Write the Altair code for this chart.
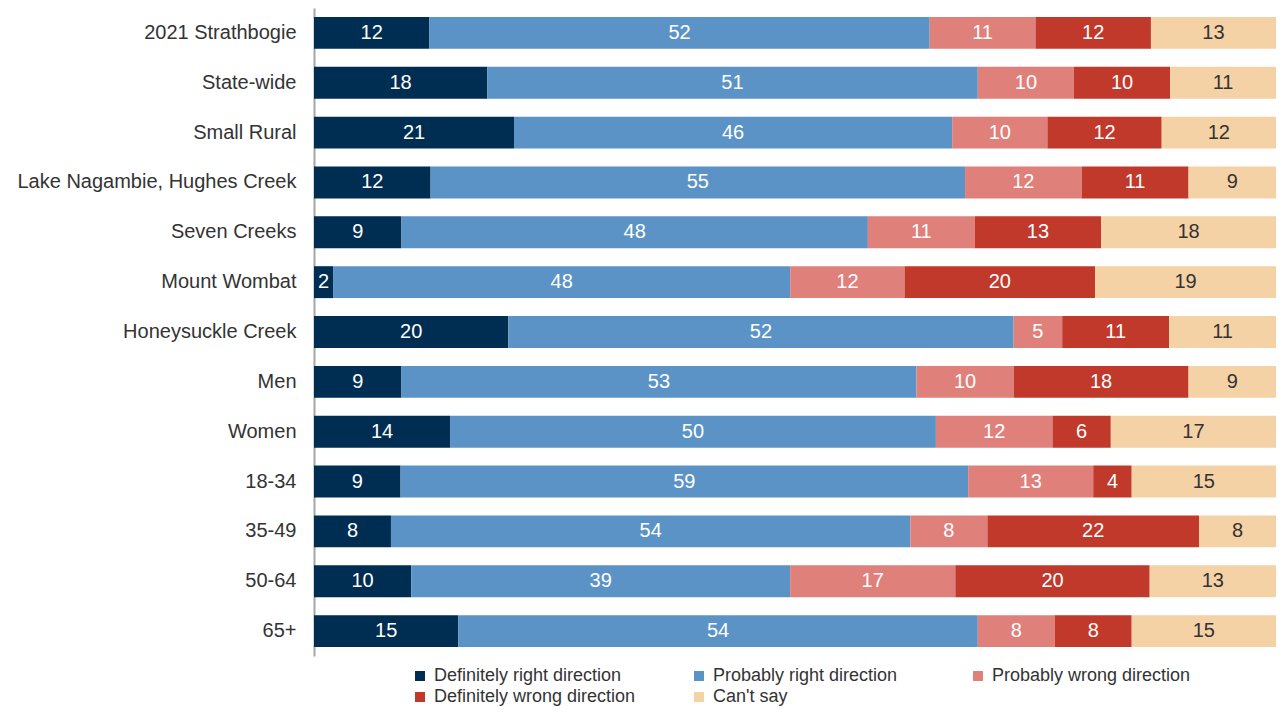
import altair as alt
import pandas as pd

groups = ["2021 Strathbogie", "State-wide", "Small Rural", "Lake Nagambie, Hughes Creek",
          "Seven Creeks", "Mount Wombat", "Honeysuckle Creek", "Men", "Women",
          "18-34", "35-49", "50-64", "65+"]
series = ["Definitely right direction", "Probably right direction",
          "Probably wrong direction", "Definitely wrong direction", "Can't say"]
definitely_right = [12, 18, 21, 12, 9, 2, 20, 9, 14, 9, 8, 10, 15]
probably_right = [52, 51, 46, 55, 48, 48, 52, 53, 50, 59, 54, 39, 54]
probably_wrong = [11, 10, 10, 12, 11, 12, 5, 10, 12, 13, 8, 17, 8]
definitely_wrong = [12, 10, 12, 11, 13, 20, 11, 18, 6, 4, 22, 20, 8]
cant_say = [13, 11, 12, 9, 18, 19, 11, 9, 17, 15, 8, 13, 15]
colors = ["#002d52", "#5b93c6", "#e0807a", "#c0392b", "#f5d1a6"]

values = [definitely_right, probably_right, probably_wrong, definitely_wrong, cant_say]
rows = []
for k, (s, vals) in enumerate(zip(series, values)):
    for g, v in zip(groups, vals):
        rows.append({"group": g, "series": s, "k": k, "value": v})
df = pd.DataFrame(rows)

FONT = "Liberation Sans"

yenc = alt.Y("group:N", sort=groups, title=None,
             scale=alt.Scale(paddingInner=0.36, paddingOuter=0.18),
             axis=alt.Axis(labelFont=FONT, labelFontSize=20, labelColor="#333333",
                           ticks=False, domainColor="#a6a6a6", domainWidth=2,
                           labelPadding=18, labelLimit=400, grid=False))

bars = alt.Chart(df).mark_bar().encode(
    y=yenc,
    x=alt.X("value:Q", stack="normalize", axis=None,
            scale=alt.Scale(domain=[0, 1], nice=False)),
    color=alt.Color("series:N", sort=series,
                    scale=alt.Scale(domain=series, range=colors),
                    legend=alt.Legend(title=None, orient="none", legendX=97, legendY=659,
                                      direction="horizontal",
                                      columns=3, gridAlign="all", columnPadding=54,
                                      rowPadding=3, symbolType="square", symbolSize=100,
                                      symbolStrokeWidth=0, labelFont=FONT,
                                      labelFontSize=18, labelColor="#333333",
                                      labelOffset=5, padding=0, labelLimit=400)),
    order=alt.Order("k:Q"),
)

text = alt.Chart(df).transform_joinaggregate(
    total="sum(value)", groupby=["group"]
).transform_window(
    cum="sum(value)", sort=[alt.SortField("k")], groupby=["group"], frame=[None, 0]
).transform_calculate(
    mid="(datum.cum - datum.value / 2) / datum.total"
).mark_text(font=FONT, fontSize=20, baseline="middle", align="center").encode(
    y=alt.Y("group:N", sort=groups),
    x=alt.X("mid:Q"),
    text="value:Q",
    color=alt.condition("datum.k == 4", alt.value("#333333"), alt.value("#ffffff")),
)

chart = alt.layer(bars, text).properties(
    width=962, height=648,
    padding={"left": 306, "top": 0, "right": 0, "bottom": 52},
    autosize=alt.AutoSizeParams(type="none"),
).configure_view(stroke=None)

chart.save("out.html", embed_options={"renderer": "svg", "actions": False})
